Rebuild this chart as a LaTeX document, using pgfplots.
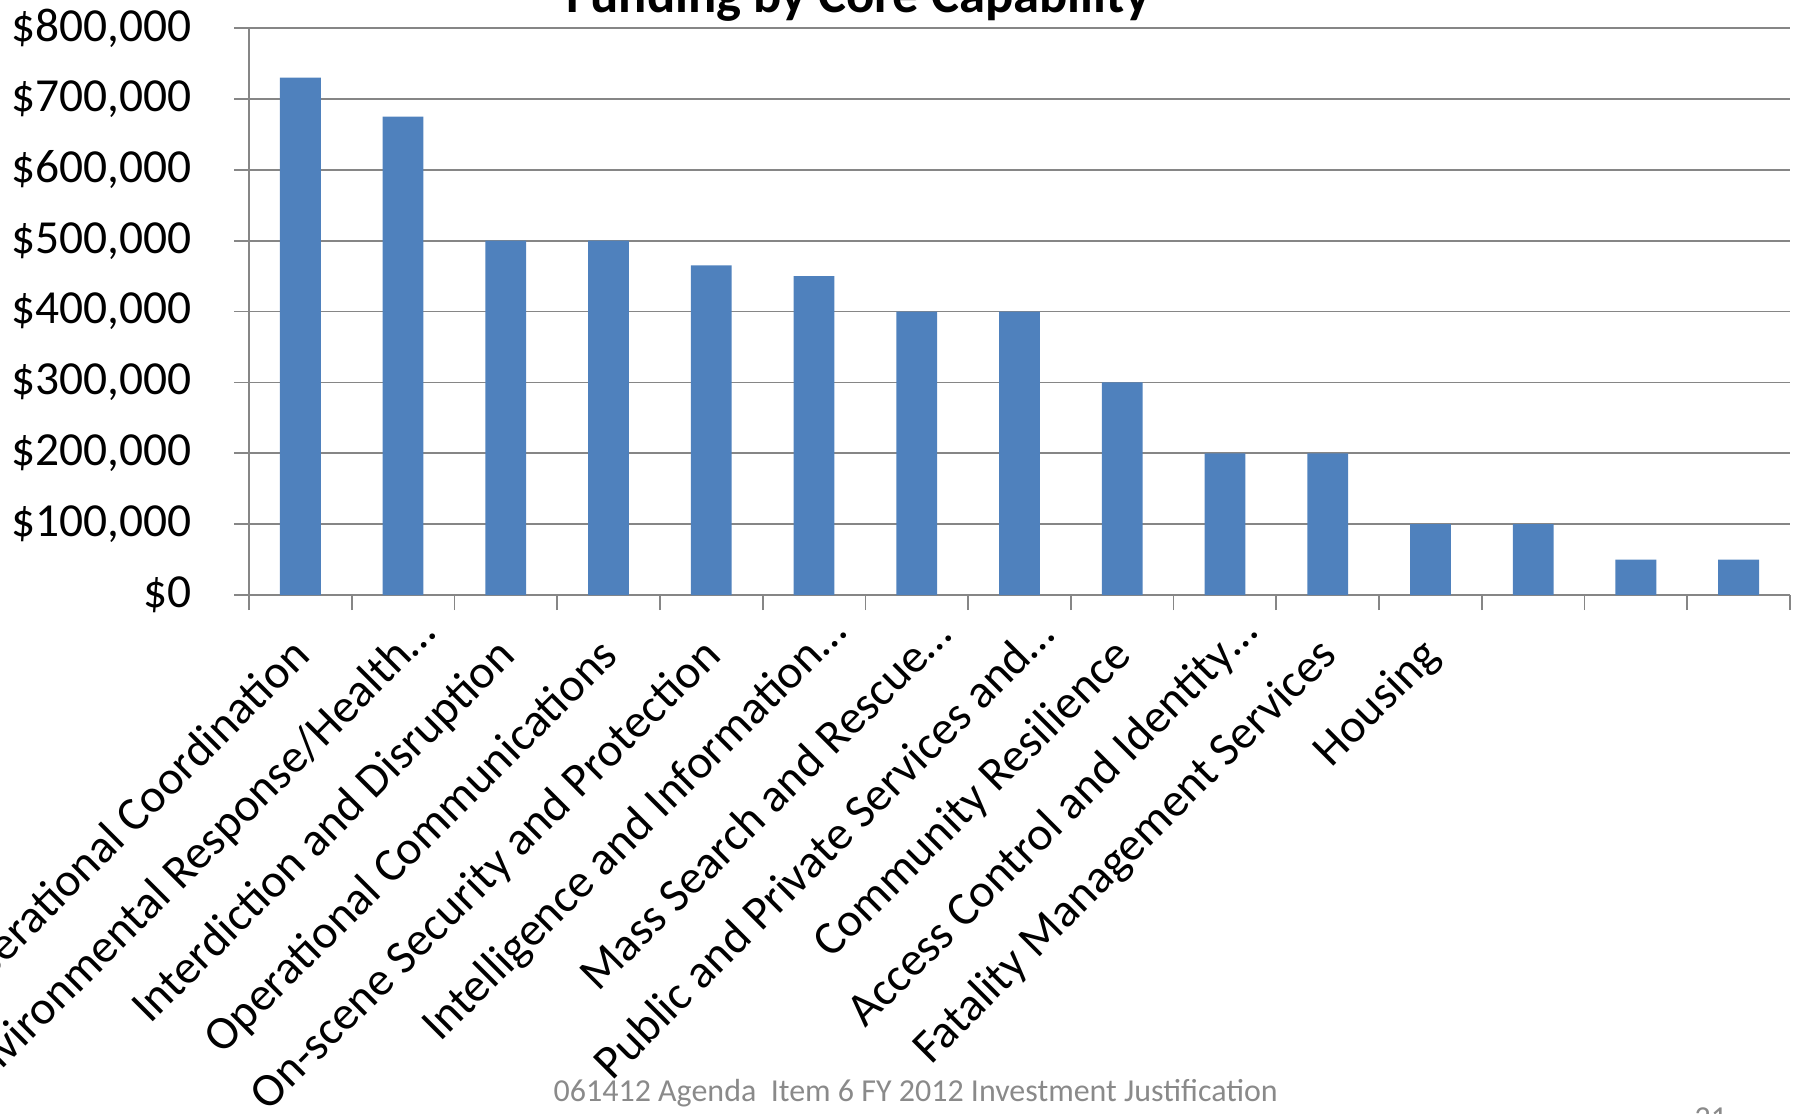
\documentclass[border=0pt]{standalone}
\usepackage{pgfplots}
\pgfplotsset{compat=1.18}
\usepackage{fontspec}
\setmainfont{Carlito}
\definecolor{barblue}{HTML}{4F81BD}
\definecolor{axgray}{HTML}{868686}
\definecolor{footgray}{HTML}{8A8A8A}
\begin{document}
\begin{tikzpicture}
\path[use as bounding box, clip] (0,0) rectangle (179.4mm,111.3mm);
\begin{axis}[
  at={(24.9mm,51.8mm)}, anchor=south west,
  scale only axis, width=154.1mm, height=56.7mm,
  xmin=-0.5, xmax=14.5, ymin=0, ymax=800000,
  axis x line*=bottom, axis y line*=left,
  axis line style={axgray, line width=0.5pt, -},
  ymajorgrids, grid style={axgray, line width=0.5pt},
  ytick={0,100000,200000,300000,400000,500000,600000,700000,800000},
  yticklabels={\$0,{\$100,000},{\$200,000},{\$300,000},{\$400,000},{\$500,000},{\$600,000},{\$700,000},{\$800,000}},
  scaled y ticks=false,
  tick align=outside,
  major tick length=1.45mm, minor tick length=1.5mm,
  tick style={axgray, line width=0.5pt},
  xtick={0,1,2,3,4,5,6,7,8,9,10,11,12,13,14},
  minor xtick={-0.5,0.5,1.5,2.5,3.5,4.5,5.5,6.5,7.5,8.5,9.5,10.5,11.5,12.5,13.5,14.5},
  every major x tick/.append style={draw=none},
  xticklabels={Operational Coordination,{Environmental Response/Health\rlap{…}},Interdiction and Disruption,Operational Communications,On-scene Security and Protection,{Intelligence and Information\rlap{…}},{Mass Search and Rescue\rlap{…}},{Public and Private Services and\rlap{…}},Community Resilience,{Access Control and Identity\rlap{…}},Fatality Management Services,Housing,{},{},{}},
  xticklabel style={xshift=0.3mm, yshift=-3.9mm, rotate=45, anchor=east, inner sep=0pt, font=\fontsize{13.5}{16}\selectfont},
  yticklabel style={anchor=east, inner sep=0pt, xshift=-4.2mm, font=\fontsize{13.5}{16}\selectfont},
  ybar, bar width=4.08mm,
]
\addplot[fill=barblue, draw=none] coordinates {
(0,730000) (1,675000) (2,500000) (3,500000) (4,465000) (5,450000) (6,400000) (7,400000)
(8,300000) (9,200000) (10,200000) (11,100000) (12,100000) (13,50000) (14,50000)};
\end{axis}
\node[anchor=base, font=\fontsize{15}{18}\selectfont\bfseries] at (85.8mm,110.0mm) {Funding by Core Capability};
\node[anchor=base west, inner sep=0pt, text=footgray, font=\fontsize{9.1}{10}\selectfont] at (55.3mm,1.2mm) {061412 Agenda\ \ Item 6 FY 2012 Investment Justification};
\node[anchor=base west, inner sep=0pt, text=footgray, font=\fontsize{9.1}{10}\selectfont] at (169.4mm,-1.5mm) {21};
\end{tikzpicture}
\end{document}
